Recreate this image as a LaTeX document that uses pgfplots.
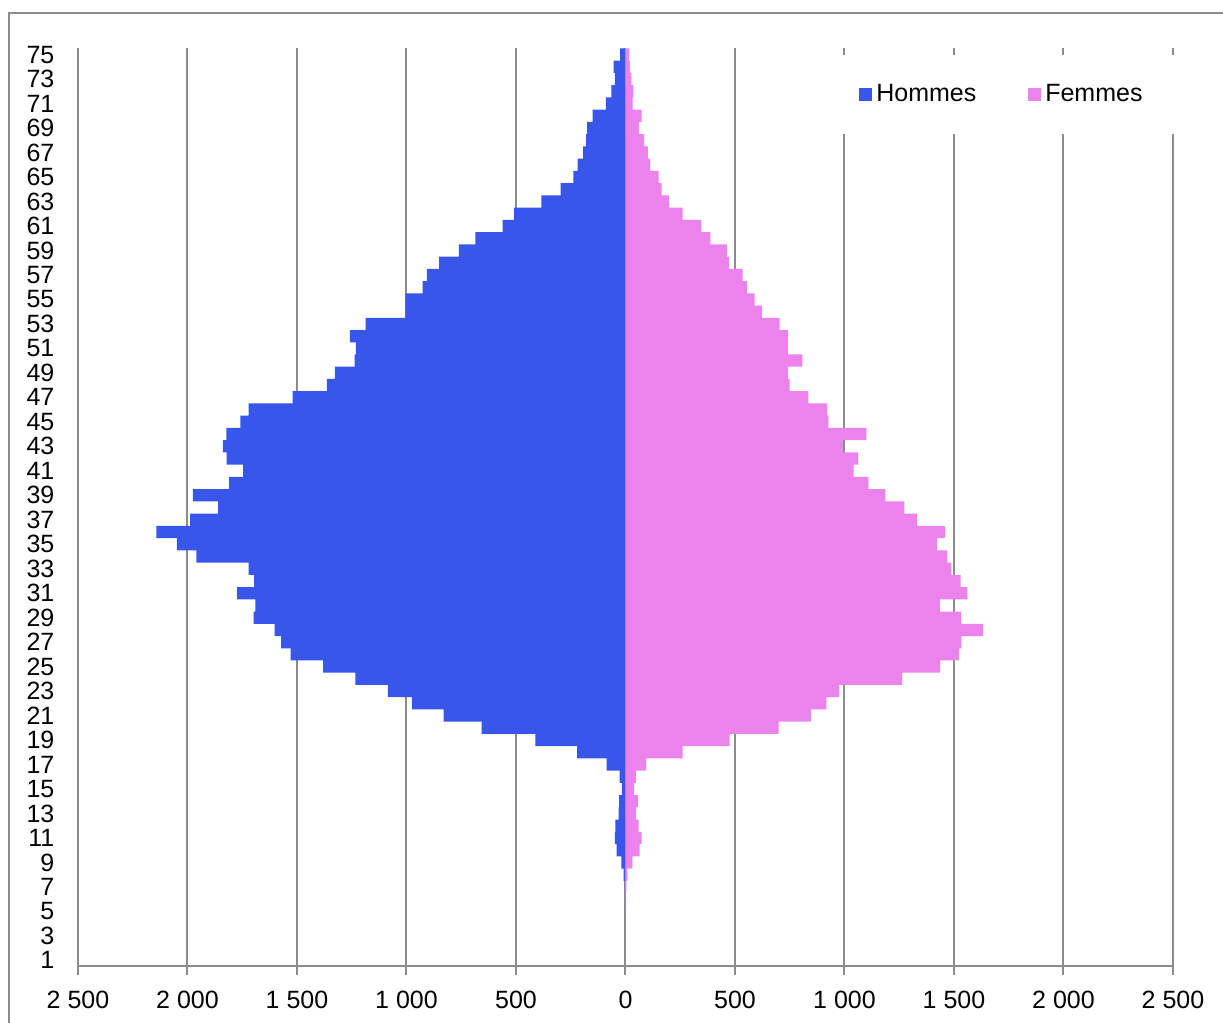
\documentclass[border=0pt]{standalone}
\usepackage{pgfplots}
\pgfplotsset{compat=1.18}
\usepackage{pgfplotstable}
\usepackage{fontspec}
\setmainfont{Liberation Sans}

\definecolor{hommes}{RGB}{56,86,233}
\definecolor{femmes}{RGB}{236,130,236}
\definecolor{grille}{RGB}{140,140,140}

% age, hommes (negatifs), femmes
\pgfplotstableread{
age hommes femmes
75 -25 15
74 -54 20
73 -48 27
72 -65 36
71 -90 33
70 -150 74
69 -175 62
68 -180 85
67 -194 102
66 -219 113
65 -238 151
64 -296 165
63 -384 198
62 -509 261
61 -561 347
60 -686 388
59 -761 463
58 -851 472
57 -907 535
56 -926 554
55 -1005 590
54 -1005 623
53 -1187 704
52 -1258 741
51 -1231 741
50 -1237 808
49 -1327 742
48 -1364 750
47 -1520 835
46 -1721 922
45 -1758 926
44 -1823 1100
43 -1838 993
42 -1821 1062
41 -1746 1042
40 -1810 1109
39 -1975 1187
38 -1860 1274
37 -1988 1332
36 -2142 1459
35 -2048 1423
34 -1960 1470
33 -1721 1488
32 -1696 1530
31 -1773 1561
30 -1690 1436
29 -1698 1532
28 -1602 1632
27 -1573 1534
26 -1529 1523
25 -1381 1437
24 -1233 1263
23 -1085 976
22 -976 917
21 -830 848
20 -657 699
19 -411 476
18 -221 261
17 -86 94
16 -27 47
15 -17 38
14 -29 56
13 -31 47
12 -46 60
11 -48 74
10 -40 65
9 -19 31
8 -8 9
7 -3 4
6 0 1
}\pyramide

\begin{document}
\begin{tikzpicture}
\useasboundingbox (-39pt,-28.25pt) rectangle (572.5pt,483.25pt);
% cadre
\draw[grille, line width=1pt] (-34.5pt,-60pt) -- (-34.5pt,476.75pt) -- (600pt,476.75pt);
\begin{axis}[
    at={(0,0)}, anchor=south west,
    scale only axis,
    width=547.5pt, height=459pt,
    xmin=-2500, xmax=2500,
    ymin=0.5, ymax=75.5,
    xtick={-2500,-2000,...,2500},
    xticklabels={2 500,2 000,1 500,1 000,500,0,500,1 000,1 500,2 000,2 500},
    ytick={1,3,...,75},
    /pgf/number format/assume math mode=true,
    tick label style={font=\fontsize{12.5}{15}\selectfont},
    x tick label style={yshift=-4pt},
    y tick label style={xshift=-3.8pt},
    axis x line*=bottom,
    axis y line*=left,
    x axis line style={grille, line width=1pt, -},
    y axis line style={draw=none},
    xtick style={grille, line width=1pt},
    ytick style={draw=none},
    tick align=outside,
    major tick length=4.5pt,
    xmajorgrids=true,
    grid style={grille, line width=1pt},
    xbar, bar shift=0pt, bar width=1,
    legend columns=2,
    legend style={
        at={(0.8447,0.9499)}, anchor=center,
        draw=none, fill=white,
        inner xsep=18pt, inner ysep=12.5pt,
        font=\fontsize{12.5}{15}\selectfont,
        /tikz/every even column/.append style={column sep=24pt},
    },
    legend image code/.code={\fill[#1] (0pt,-3.25pt) rectangle (6.5pt,3.25pt);},
]
\addplot[fill=hommes, draw=none] table[x=hommes, y=age] {\pyramide};
\addplot[fill=femmes, draw=none] table[x=femmes, y=age] {\pyramide};
\legend{Hommes, Femmes}
\end{axis}
\end{tikzpicture}
\end{document}
